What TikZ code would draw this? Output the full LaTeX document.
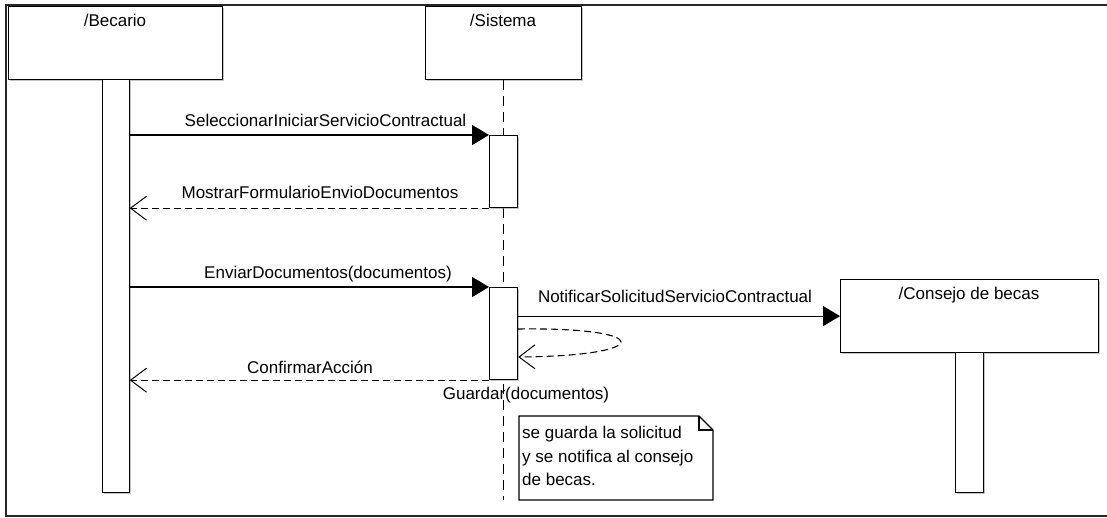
\documentclass[tikz,border=0pt]{standalone}
\usepackage{fontspec}
\setmainfont{Liberation Sans}
\usetikzlibrary{arrows.meta,shadows,calc}

\tikzset{
  lifebox/.style={draw,line width=1.2pt,fill=white,anchor=north west,inner sep=0pt,
    drop shadow={shadow xshift=1.5pt,shadow yshift=-1.5pt,fill=black!45}},
  actbar/.style={lifebox,minimum width=28pt},
  call/.style={line width=1.2pt,-{Triangle[length=17pt,width=20pt]}},
  ret/.style={line width=1.1pt,dash pattern=on 7pt off 4pt,-{Straight Barb[length=16pt,width=24pt,line width=1pt]}},
  lbl/.style={anchor=base,inner sep=0pt}
}

\begin{document}
\begin{tikzpicture}[x=1pt,y=-1pt,font=\fontsize{17}{23.5}\selectfont]
\useasboundingbox (0,0) rectangle (1107,518);
% frame
\draw[line width=2.5pt,black!85] (1107,5) -- (6,5) -- (6,516) -- (1107,516);

% lifelines
\draw (8,6) node[lifebox,minimum width=214pt,minimum height=73pt] (becario) {};
\draw (425,6) node[lifebox,minimum width=156pt,minimum height=73pt] (sistema) {};
\draw[line width=1.1pt,dash pattern=on 10pt off 6pt] (sistema.south) -- (sistema.south |- 0,500) coordinate (sisend);
\draw (115,27) node[lbl] (becario-t) {/Becario};
\draw (503,27) node[lbl] (sistema-t) {/Sistema};

% activation bars
\draw (101.5,79) node[actbar,minimum width=27pt,minimum height=413pt] (becbar) {};
\draw (489,135) node[actbar,minimum height=72pt] (act1) {};
\draw (489,287) node[actbar,minimum height=92pt] (act2) {};

% consejo de becas
\draw (840,279) node[lifebox,minimum width=258pt,minimum height=73pt] (consejo) {};
\draw (969,300) node[lbl] (consejo-t) {/Consejo de becas};
\draw (955,352) node[actbar,minimum height=140pt] (conbar) {};

% messages
\draw[call] (becbar.east |- act1.north) -- (act1.north west);
\draw (325.5,127) node[lbl] (m1) {SeleccionarIniciarServicioContractual};
\draw[ret] (act1.south west) -- (becbar.east |- act1.south);
\draw (320,199) node[lbl] (m2) {MostrarFormularioEnvioDocumentos};
\draw[call] (becbar.east |- act2.north) -- (act2.north west);
\draw (328,279) node[lbl] (m3) {EnviarDocumentos(documentos)};
\draw[call] (act2.east |- consejo.west) -- (consejo.west);
\draw (675,302) node[lbl] (m4) {NotificarSolicitudServicioContractual};
\draw[ret] ($(act2.north east)+(0,42)$) .. controls (655,327) and (655,356) .. ($(act2.north east)+(0,70)$);
\draw (526,399) node[lbl] (m6) {Guardar(documentos)};
\draw[ret] (act2.south west) -- (becbar.east |- act2.south);
\draw (310,373) node[lbl] (m5) {ConfirmarAcción};

% note
\draw[line width=1.2pt,fill=white] (519,416) -- (699,416) -- (713,430) -- (713,500) -- (519,500) -- cycle;
\draw[line width=1.2pt] (699,416) -- (699,430) -- (713,430);
\draw (522,426) node[anchor=north west,inner sep=0pt,align=left] (nota) {se guarda la solicitud\\y se notifica al consejo\\de becas.};
\end{tikzpicture}
\end{document}
